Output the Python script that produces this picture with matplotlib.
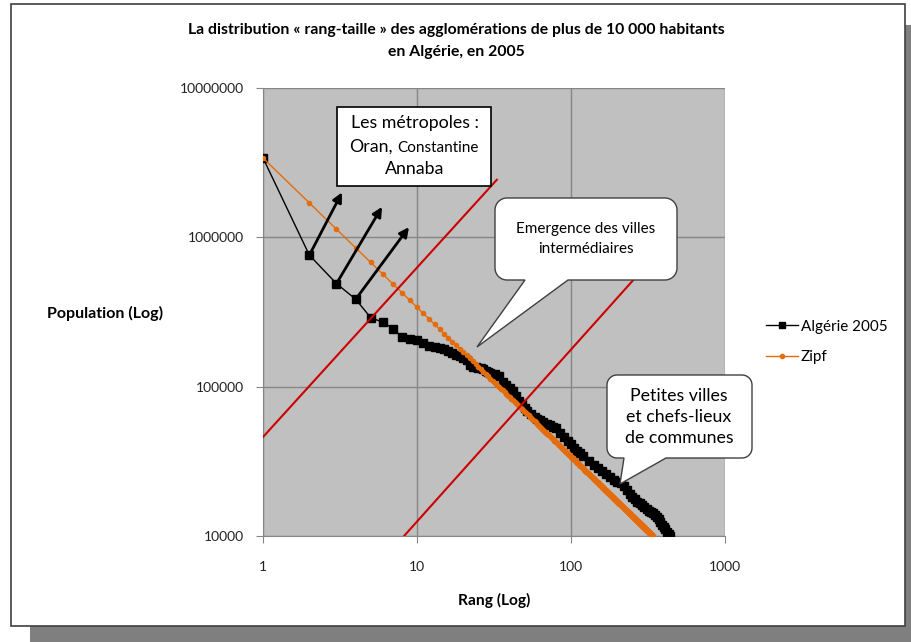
import numpy as np
import matplotlib
matplotlib.use("Agg")
import matplotlib.pyplot as plt
from matplotlib.patches import Polygon, Rectangle
from matplotlib.lines import Line2D

plt.rcParams["font.family"] = ["Lato", "DejaVu Sans"]

# Data
ranks = [1, 2, 3, 4, 5, 6, 7, 8, 9, 10, 11, 12, 13, 14, 15, 16, 17, 18, 19, 20,
         21, 22, 23, 24, 25, 26, 27, 28, 29, 30, 32, 34, 36, 38, 40, 42, 44, 46,
         48, 50, 52, 55, 58, 60, 63, 66, 70, 73, 76, 80, 85, 90, 95, 100, 105,
         110, 115, 120, 130, 140, 150, 160, 170, 180, 190, 200, 210, 220, 230,
         240, 250, 260, 270, 280, 290, 300, 310, 320, 330, 340, 350, 360, 370,
         380, 390, 400, 410, 420, 430, 440]
population = [3400000, 760000, 490000, 385000, 290000, 270000, 245000, 214000,
              210000, 205000, 196000, 188000, 185000, 182000, 178000, 173000,
              169000, 164000, 160000, 156000, 152000, 140000, 136000, 135000,
              134000, 133000, 132000, 128000, 125000, 123000, 121000, 118000,
              108000, 103000, 98000, 94000, 87000, 80000, 76000, 72000, 69000,
              66000, 63000, 61000, 59500, 58000, 56500, 55000, 54000, 53000,
              49000, 46000, 43000, 41000, 39000, 37000, 36000, 34500, 32000,
              30000, 28500, 27200, 26000, 24800, 23800, 23000, 22500, 21500,
              20300, 19200, 18300, 17600, 17000, 16700, 16200, 15600, 15200,
              14800, 14500, 14300, 13900, 13400, 12900, 12400, 11900, 11500,
              11100, 10700, 10300, 10000]

# Zipf rank-size rule: P(r) = P(1) / r, down to 10 000 inhabitants
zipf_top = 3400000
zipf_ranks = np.arange(1, 341)
zipf_population = zipf_top / zipf_ranks

# Two red guide lines drawn on the chart (rank, population)
guide1_rank = [1, 33]
guide1_pop = [46000, 2430000]
guide2_rank = [8.24, 280]
guide2_pop = [10000, 580000]

# Arrows towards the metropoles box (start rank/pop, end rank/pop)
arrow_start = [(2, 760000), (3, 490000), (4, 385000)]
arrow_end = [(3.26, 2000000), (5.93, 1600000), (8.87, 1170000)]

x_ticks = [1, 10, 100, 1000]
x_labels = ["1", "10", "100", "1000"]
y_ticks = [10000, 100000, 1000000, 10000000]
y_labels = ["10000", "100000", "1000000", "10000000"]

title = ("La distribution « rang-taille » des agglomérations de plus de 10 000 habitants\n"
         "en Algérie, en 2005")

W, H = 912, 642


def fx(x):
    return x / W


def fy(y):
    return 1 - y / H


def callout(fig, x0, y0, x1, y1, r, base, tip):
    """Rounded speech bubble in pixel coordinates (y pointing down)."""
    yb, yt = H - y1, H - y0
    pts = [(x0 + r, yb), (base[0], yb), (tip[0], H - tip[1]), (base[1], yb), (x1 - r, yb)]
    arcs = [((x1 - r, yb + r), -90, 0), ((x1 - r, yt - r), 0, 90),
            ((x0 + r, yt - r), 90, 180), ((x0 + r, yb + r), 180, 270)]
    for (cx, cy), a0, a1 in arcs:
        t = np.radians(np.linspace(a0, a1, 12))
        pts += list(zip(cx + r * np.cos(t), cy + r * np.sin(t)))
    pts = [(px / W, py / H) for px, py in pts]
    fig.patches.append(Polygon(pts, closed=True, transform=fig.transFigure,
                               facecolor="white", edgecolor="#404040", lw=1, zorder=5))


fig = plt.figure(figsize=(W / 100, H / 100), dpi=100)

# Frame with shadow
fig.patches.append(Rectangle((fx(30), 0), 1 - fx(30), fy(25), transform=fig.transFigure,
                             facecolor="#7f7f7f", edgecolor="none", zorder=-10))
fig.patches.append(Rectangle((fx(11), fy(626)), fx(905) - fx(11), fy(4) - fy(626),
                             transform=fig.transFigure, facecolor="white",
                             edgecolor="#404040", lw=1.2, zorder=-9))

ax = fig.add_axes([fx(263), fy(536), fx(725) - fx(263), fy(88) - fy(536)])
ax.set_facecolor("#c0c0c0")
ax.set_xscale("log")
ax.set_yscale("log")
ax.set_xlim(1, 1000)
ax.set_ylim(10000, 10000000)
ax.set_xticks(x_ticks)
ax.set_xticklabels(x_labels)
ax.set_yticks(y_ticks)
ax.set_yticklabels(y_labels)
ax.minorticks_off()
ax.tick_params(axis="both", direction="out", length=5, color="#868686",
               labelsize=10, labelcolor="#222222")
ax.tick_params(axis="x", pad=13)
ax.tick_params(axis="y", pad=9)
ax.grid(True, color="#868686", lw=1)
ax.set_axisbelow(True)
for side in ["top", "right"]:
    ax.spines[side].set_visible(False)
for side in ["left", "bottom"]:
    ax.spines[side].set_color("#868686")

# Series
ax.plot(ranks, population, color="black", lw=1, marker="s", ms=5.5, zorder=3,
        label="Algérie 2005")
ax.plot(zipf_ranks, zipf_population, color="#e46c0a", lw=1, marker="o", ms=3,
        zorder=4, label="Zipf")
ax.plot(guide1_rank, guide1_pop, color="#cc0000", lw=1.5, zorder=5)
ax.plot(guide2_rank, guide2_pop, color="#cc0000", lw=1.5, zorder=5)

for start, end in zip(arrow_start, arrow_end):
    ax.annotate("", xy=end, xytext=start,
                arrowprops=dict(arrowstyle="-|>", lw=2, color="black",
                                mutation_scale=14, shrinkA=0, shrinkB=0),
                zorder=6)

# Titles and axis labels
fig.text(0.5, fy(41), title, ha="center", va="center", fontsize=11.3,
         fontweight="bold", linespacing=1.75)
fig.text(fx(47), fy(313), "Population (Log)", ha="left", va="center",
         fontsize=11.5, fontweight="bold")
fig.text(fx(494), fy(600), "Rang (Log)", ha="center", va="center",
         fontsize=11.2, fontweight="bold")

# Legend
handles = [Line2D([], [], color="black", lw=1, marker="s", ms=4.5),
           Line2D([], [], color="#e46c0a", lw=1, marker="o", ms=3)]
fig.legend(handles, ["Algérie 2005", "Zipf"], loc="center left",
           bbox_to_anchor=(fx(752), fy(342)), frameon=False, fontsize=11,
           handlelength=2.1, handletextpad=0.2, labelspacing=1.1)

# Metropoles box
fig.patches.append(Rectangle((fx(337), fy(186)), fx(491) - fx(337), fy(107) - fy(186),
                             transform=fig.transFigure, facecolor="white",
                             edgecolor="black", lw=1.2, zorder=5))
fig.text(fx(415), fy(128), "Les métropoles :", ha="center", va="baseline",
         fontsize=12.8, zorder=6)
fig.text(fx(393), fy(152), "Oran,", ha="right", va="baseline", fontsize=12.8, zorder=6)
fig.text(fx(397), fy(152), "Constantine", ha="left", va="baseline", fontsize=11, zorder=6)
fig.text(fx(415), fy(174), "Annaba", ha="center", va="baseline", fontsize=12.8, zorder=6)

# Speech bubbles
callout(fig, 495, 198, 677, 280, 12, (525, 568), (477, 347))
fig.text(fx(586), fy(239), "Emergence des villes\nintermédiaires", ha="center",
         va="center", fontsize=11, linespacing=1.6, zorder=6)
callout(fig, 607, 375, 752, 458, 10, (624, 666), (620, 484))
fig.text(fx(679), fy(417), "Petites villes\net chefs-lieux\nde communes",
         ha="center", va="center", fontsize=12.8, linespacing=1.35, zorder=6)

fig.savefig("out.png", dpi=100)
